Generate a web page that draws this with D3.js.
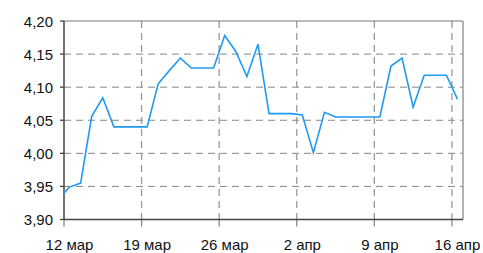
<!DOCTYPE html>
<html>
<head>
<meta charset="utf-8">
<script src="https://cdn.jsdelivr.net/npm/d3@7"></script>
<style>
  html, body { margin: 0; padding: 0; background: #fff; }
  svg { display: block; }
  text { font-family: "Liberation Sans", Arial, sans-serif; font-size: 15px; fill: #111; }
</style>
</head>
<body>
<svg id="chart" width="483" height="253"></svg>
<script>
// ---- data ----
const firstDate = "2024-03-11"; // one value per day, plotted at noon
const values = [
  3.931, 3.949, 3.955, 4.056, 4.084, 4.040, 4.040, 4.040, 4.040, 4.105,
  4.125, 4.144, 4.129, 4.129, 4.129, 4.178, 4.154, 4.116, 4.165, 4.060,
  4.060, 4.060, 4.058, 4.001, 4.062, 4.055, 4.055, 4.055, 4.055, 4.055,
  4.132, 4.144, 4.070, 4.118, 4.118, 4.118, 4.082
];
const yTicks = [3.90, 3.95, 4.00, 4.05, 4.10, 4.15, 4.20];
const xTickDates = ["2024-03-12", "2024-03-19", "2024-03-26", "2024-04-02", "2024-04-09", "2024-04-16"];
const xTickLabels = ["12 мар", "19 мар", "26 мар", "2 апр", "9 апр", "16 апр"];
const xDomain = ["2024-03-12", "2024-04-17"];
const yDomain = [3.90, 4.20];

// ---- layout ----
const L = 64, R = 463, T = 21, B = 219.5;
const DAY = 864e5;
const parse = s => new Date(s + "T00:00:00Z");
const start = parse(firstDate);
const data = values.map((v, i) => ({ date: new Date(start.getTime() + i * DAY + DAY / 2), value: v }));

const x = d3.scaleUtc().domain(xDomain.map(parse)).range([L, R]);
const y = d3.scaleLinear().domain(yDomain).range([B, T]);

const svg = d3.select("#chart");

svg.append("defs").append("clipPath").attr("id", "clip")
  .append("rect").attr("x", L).attr("y", T).attr("width", R - L).attr("height", B - T);

// grid
const grid = svg.append("g");
grid.selectAll("line.h").data(yTicks.slice(1, -1)).join("line")
  .attr("x1", L).attr("x2", R).attr("y1", d => y(d)).attr("y2", d => y(d))
  .attr("stroke", "#858585").attr("stroke-width", 1).attr("stroke-dasharray", "7,5");
grid.selectAll("line.v").data(xTickDates.slice(1)).join("line")
  .attr("x1", d => x(parse(d))).attr("x2", d => x(parse(d))).attr("y1", T).attr("y2", B)
  .attr("stroke", "#999").attr("stroke-width", 1.3).attr("stroke-dasharray", "7,5");

// frame
svg.append("line").attr("x1", L).attr("x2", R).attr("y1", T).attr("y2", T).attr("stroke", "#777").attr("stroke-width", 1);
svg.append("line").attr("x1", R).attr("x2", R).attr("y1", T).attr("y2", B).attr("stroke", "#999").attr("stroke-width", 1.5);

// x ticks
svg.append("g").selectAll("line").data(xTickDates).join("line")
  .attr("x1", d => x(parse(d))).attr("x2", d => x(parse(d))).attr("y1", B).attr("y2", B + 7)
  .attr("stroke", "#888").attr("stroke-width", 1.3);
// y ticks
svg.append("g").selectAll("line").data(yTicks).join("line")
  .attr("x1", L - 4).attr("x2", L).attr("y1", d => y(d)).attr("y2", d => y(d))
  .attr("stroke", "#444").attr("stroke-width", 1.3);

// axes lines
svg.append("line").attr("x1", L).attr("x2", L).attr("y1", T).attr("y2", B).attr("stroke", "#444").attr("stroke-width", 1.5);
svg.append("line").attr("x1", L).attr("x2", R).attr("y1", B).attr("y2", B).attr("stroke", "#444").attr("stroke-width", 1.5);

// y labels
svg.append("g").selectAll("text").data(yTicks).join("text")
  .attr("x", 53).attr("y", d => y(d) + 5.5).attr("text-anchor", "end")
  .text(d => d3.format(".2f")(d).replace(".", ","));

// x labels (centered on noon of tick date)
svg.append("g").selectAll("text").data(xTickDates).join("text")
  .attr("x", d => x(new Date(parse(d).getTime() + DAY / 2))).attr("y", 250).attr("text-anchor", "middle")
  .text((d, i) => xTickLabels[i]);

// line
svg.append("path").datum(data)
  .attr("clip-path", "url(#clip)")
  .attr("fill", "none").attr("stroke", "#1e9bf0").attr("stroke-width", 1.6).attr("stroke-linejoin", "miter")
  .attr("d", d3.line().x(d => x(d.date)).y(d => y(d.value)));
</script>
</body>
</html>
